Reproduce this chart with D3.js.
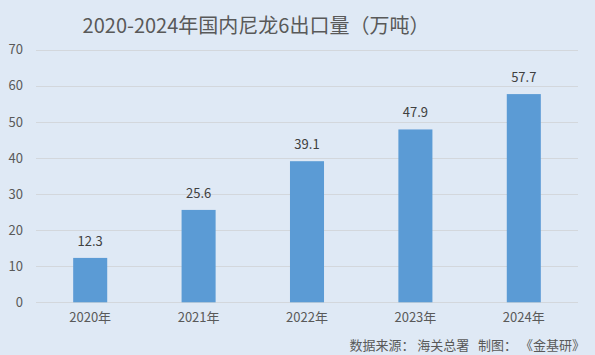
<!DOCTYPE html>
<html><head><meta charset="utf-8">
<script src="https://cdn.jsdelivr.net/npm/d3@7"></script>
<style>
html,body{margin:0;padding:0;background:#dfe9f5;}
svg{display:block;font-family:"Noto Sans CJK SC","Noto Sans",sans-serif;}
</style></head>
<body><svg id="c" width="595" height="355"></svg>
<script>
const categories = ["2020年","2021年","2022年","2023年","2024年"];
const values = [12.3, 25.6, 39.1, 47.9, 57.7];
const yTicks = [0,10,20,30,40,50,60,70];
const title = "2020-2024年国内尼龙6出口量（万吨）";
const source = "数据来源： 海关总署   制图： 《金基研》";

const svg = d3.select("#c");
svg.append("rect").attr("width",595).attr("height",355).attr("fill","#dfe9f5");
const pLeft = 36, pRight = 578, pTop = 49.7, pBottom = 302.3;
const x = d3.scaleBand().domain(categories).range([pLeft, pRight]).paddingInner(0.686).paddingOuter(0.343);
const y = d3.scaleLinear().domain([0,70]).range([pBottom, pTop]);

svg.append("text").attr("x",256).attr("y",33).attr("text-anchor","middle")
  .attr("font-size",20).attr("fill","#595959").text(title);

const grid = svg.append("g");
grid.selectAll("line").data(yTicks).join("line")
  .attr("x1",pLeft).attr("x2",pRight)
  .attr("y1",d=>Math.round(y(d))+0.5).attr("y2",d=>Math.round(y(d))+0.5)
  .attr("stroke","#d3d7dc").attr("stroke-width",1);

const yAxis = d3.axisLeft(y).tickValues(yTicks).tickSize(0).tickPadding(0);
const ya = svg.append("g").attr("transform","translate(23,0)").call(yAxis);
ya.select(".domain").remove();
ya.selectAll("text").attr("font-size",13).attr("fill","#595959").attr("font-family","'Noto Sans CJK SC',sans-serif");

svg.append("g").selectAll("rect").data(values).join("rect")
  .attr("x",(d,i)=>x(categories[i])).attr("width",x.bandwidth())
  .attr("y",d=>y(d)).attr("height",d=>pBottom-y(d)).attr("fill","#5b9bd5");

svg.append("g").selectAll("text").data(values).join("text")
  .attr("x",(d,i)=>x(categories[i])+x.bandwidth()/2).attr("y",d=>y(d)-12)
  .attr("text-anchor","middle").attr("font-size",13).attr("fill","#404040")
  .text(d=>d.toFixed(1));

const xAxis = d3.axisBottom(x).tickSize(0).tickPadding(0);
const xa = svg.append("g").attr("transform","translate(0,313)").call(xAxis);
xa.select(".domain").remove();
xa.selectAll("text").attr("font-size",13).attr("fill","#595959").attr("font-family","'Noto Sans CJK SC',sans-serif");

svg.append("text").attr("x",585).attr("y",350).attr("text-anchor","end")
  .attr("font-size",13).attr("fill","#595959").style("white-space","pre").text(source);
</script></body></html>
